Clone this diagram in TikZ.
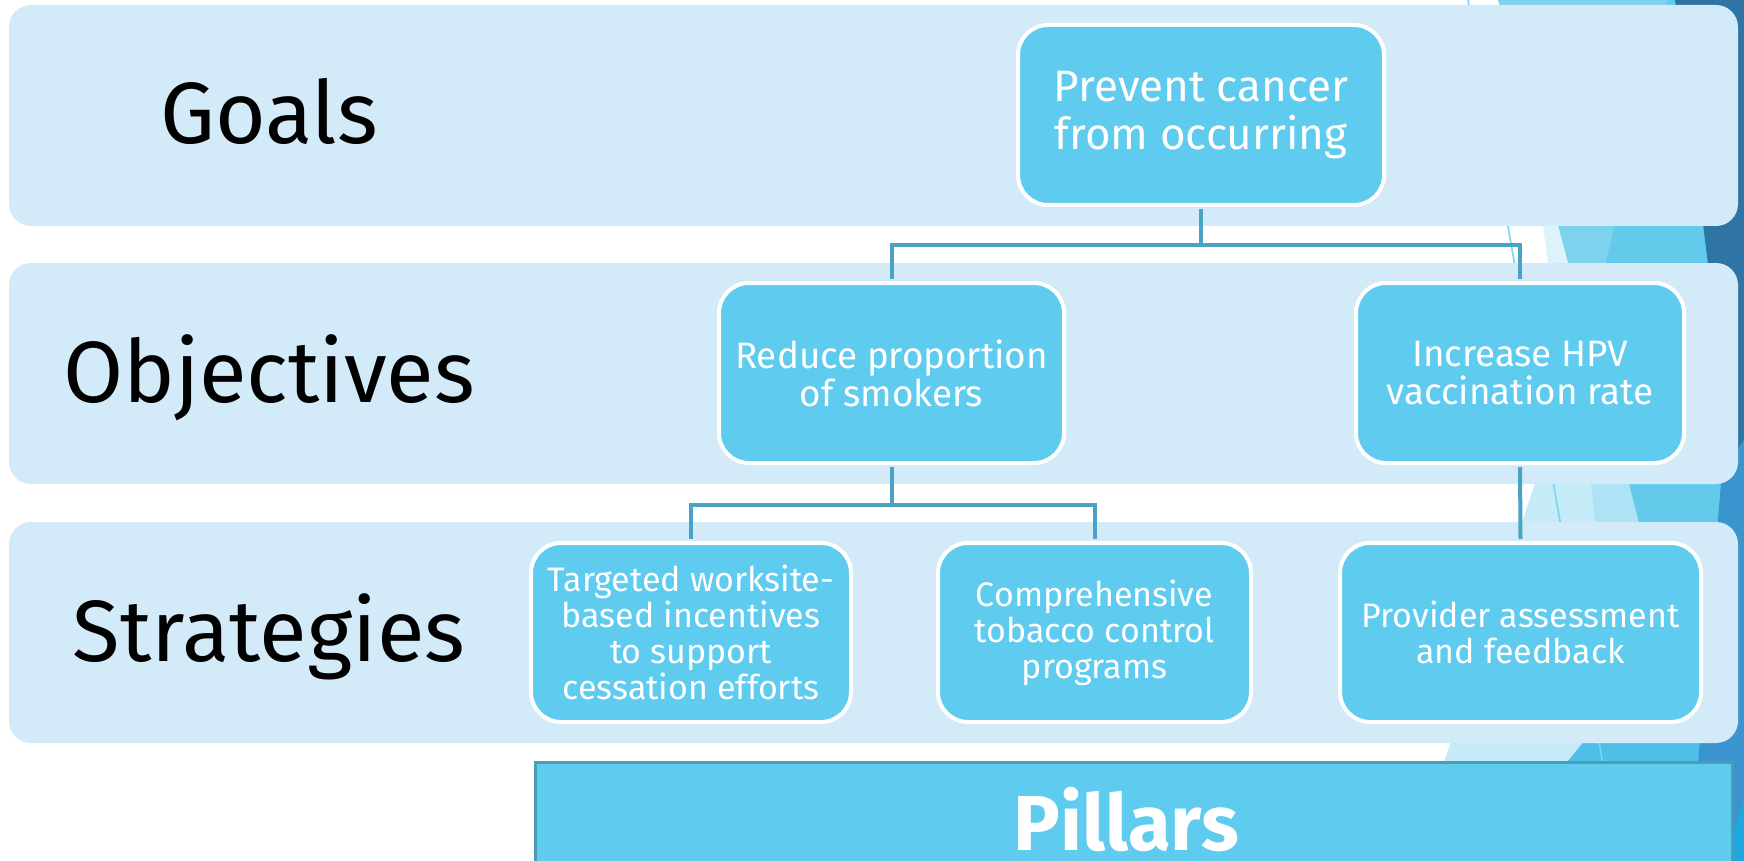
\documentclass[tikz,border=0pt]{standalone}
\usepackage{fontspec}
\setmainfont{Fira Sans}

\definecolor{bandblue}{HTML}{D3EBF8}
\definecolor{boxblue}{HTML}{5FCBEE}
\definecolor{linkblue}{HTML}{4AA3C4}
\definecolor{pillaredge}{HTML}{4A9DB5}
\definecolor{facetpale}{HTML}{DDF2FA}
\definecolor{facetlight}{HTML}{C5EBF8}
\definecolor{facetsoft}{HTML}{AEE3F5}
\definecolor{facetsky}{HTML}{7DD3EE}
\definecolor{facetmid}{HTML}{63CAEC}
\definecolor{facetcyan}{HTML}{4EC0E8}
\definecolor{facetdark}{HTML}{2E74A5}
\definecolor{facetdeep}{HTML}{3A95CF}
\definecolor{facetbright}{HTML}{1FA8E0}

\begin{document}
\begin{tikzpicture}[x=0.5pt,y=-0.5pt,
    band/.style={fill=bandblue,rounded corners=11pt,inner sep=0pt,
      minimum width=864.5pt,minimum height=110.5pt},
    rowlabel/.style={anchor=base,text=black,font=\fontsize{43.5}{45}\selectfont},
    box/.style={draw=white,line width=2pt,fill=boxblue,rounded corners=15pt,
      text=white,align=center,inner sep=0pt,minimum height=90pt},
    goalbox/.style={box,font=\fontsize{22}{24}\selectfont},
    objbox/.style={box,font=\fontsize{18.4}{19}\selectfont},
    stratbox/.style={box,minimum height=89.5pt,font=\fontsize{17}{18}\selectfont},
    link/.style={draw=linkblue,line width=2pt,shorten <=1pt,shorten >=1pt},
    pillar/.style={draw=pillaredge,line width=1.5pt,fill=boxblue,text=white,
      minimum width=598.5pt,minimum height=60.5pt,inner sep=0pt},
    pillartext/.style={text=white,inner sep=0pt,font=\fontsize{39}{40}\selectfont\bfseries}]
      \useasboundingbox[fill=white] (0,0) rectangle (1744,861);

      % facets along the right edge
      \fill[facetpale] (1533,150) -- (1570,150) -- (1590,300) -- (1553,300) -- cycle;
      \fill[facetsky] (1498,0) -- (1680,0) -- (1620,300) -- (1578,300) -- cycle;
      \fill[facetsoft] (1570,420) -- (1640,420) -- (1660,560) -- (1590,560) -- cycle;
      \fill[facetmid] (1668,0) -- (1744,0) -- (1744,700) -- (1684,700) -- (1590,330) -- cycle;
      \fill[facetcyan] (1590,650) -- (1720,650) -- (1700,861) -- (1480,861) -- cycle;
      \fill[facetlight] (1562,400) -- (1582,400) -- (1597,540) -- (1585,740)
        -- (1485,861) -- (1412,861) -- cycle;
      \draw[facetsky,line width=0.8pt] (1468,0) -- (1620,861);
      \fill[facetdark] (1675,0) -- (1744,0) -- (1744,480) -- (1735,480) -- cycle;
      \fill[facetdeep] (1722,470) -- (1744,440) -- (1744,861) -- (1690,861) -- cycle;
      \fill[facetbright] (1744,800) -- (1744,861) -- (1725,861) -- cycle;

      \node[band] (goalsband) at (873.5,115.5) {};
      \node[band] (objband) at (873.5,373.5) {};
      \node[band] (stratband) at (873.5,632.5) {};

      \node[rowlabel] (goals) at (269,144) {Goals};
      \node[rowlabel] (objectives) at (269,402) {Objectives};
      \node[rowlabel] (strategies) at (269,661) {Strategies};

      \node[goalbox,minimum width=183pt] (goal) at (1201,115) {Prevent cancer\\from occurring};
      \node[objbox,minimum width=172.5pt] (obj1) at (891.5,373) {Reduce proportion\\of smokers};
      \node[objbox,minimum width=164pt] (obj2) at (1520,373) {Increase HPV\\vaccination rate};
      \node[stratbox,minimum width=160pt] (s1) at (691,632.5)
        {Targeted worksite-\\based incentives\\to support\\cessation efforts};
      \node[stratbox,minimum width=156.5pt] (s2) at (1094.5,632.5) {Comprehensive\\tobacco control\\programs};
      \node[stratbox,minimum width=180.5pt] (s3) at (1520.5,632.5) {Provider assessment\\and feedback};

      \draw[link] (goal.south) -- ++(0,38) -| (obj1.north);
      \draw[link] (goal.south) -- ++(0,38) -| (obj2.north);
      \draw[link] (obj1.south) -- ++(0,40) -| (s1.north);
      \draw[link] (obj1.south) -- ++(0,40) -| (s2.north);
      \draw[link] (obj2.south) -- (s3.north);

      \node[pillar] (pillars) at (1134,823) {};
      \node[pillartext,anchor=base] (pillarslbl) at (1126,850) {Pillars};
    \end{tikzpicture}
\end{document}
